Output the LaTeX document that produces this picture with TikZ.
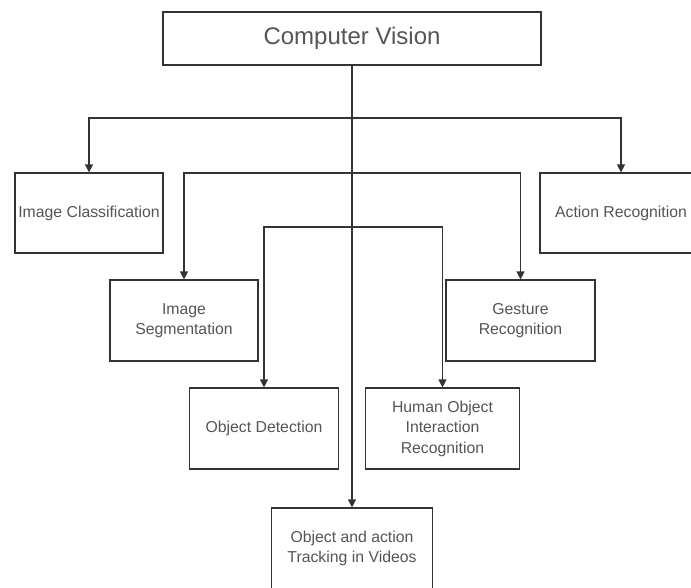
\documentclass[tikz,border=0pt]{standalone}
\usepackage{fontspec}
\setmainfont{Liberation Sans}
\usetikzlibrary{arrows.meta}
\definecolor{linecol}{HTML}{333333}
\definecolor{textcol}{HTML}{555555}
\begin{document}
\begin{tikzpicture}[x=1pt,y=-1pt,
  box/.style={draw=linecol,line width=1.2pt,rectangle,inner sep=0pt,align=center,
    text=textcol,font=\fontsize{15.8}{20.5}\selectfont},
  arr/.style={draw=linecol,line width=1.2pt,-{Triangle[length=8pt,width=8pt]}}]
\clip (0,0) rectangle (691,587);
\fill[white] (0,0) rectangle (691,587);
\node[box,minimum width=378pt,minimum height=53pt,font=\fontsize{24}{28}\selectfont] (cv) at (352,38.5) {Computer Vision};
\node[box,minimum width=148pt,minimum height=80pt] (ic) at (89,213) {Image Classification};
\node[box,minimum width=162pt,minimum height=80pt] (ar) at (621,213) {Action Recognition};
\node[box,minimum width=148pt,minimum height=81pt] (is) at (184,320.5) {Image\\Segmentation};
\node[box,minimum width=149pt,minimum height=81pt] (gr) at (520.5,320.5) {Gesture\\Recognition};
\node[box,minimum width=149pt,minimum height=81pt] (od) at (264,428.5) {Object Detection};
\node[box,minimum width=154pt,minimum height=81pt] (hoi) at (442.5,428.5) {Human Object\\Interaction\\Recognition};
\node[box,minimum width=161pt,minimum height=81pt] (tr) at (352,548.5) {Object and action\\Tracking in Videos};
\coordinate (b1) at (352,118);
\coordinate (b2) at (352,173);
\coordinate (b3) at (352,227);
\draw[arr] (cv.south) -- (tr.north);
\draw[arr] (b1) -| (ic.north);
\draw[arr] (b1) -| (ar.north);
\draw[arr] (b2) -| (is.north);
\draw[arr] (b2) -| (gr.north);
\draw[arr] (b3) -| (od.north);
\draw[arr] (b3) -| (hoi.north);
\end{tikzpicture}
\end{document}
